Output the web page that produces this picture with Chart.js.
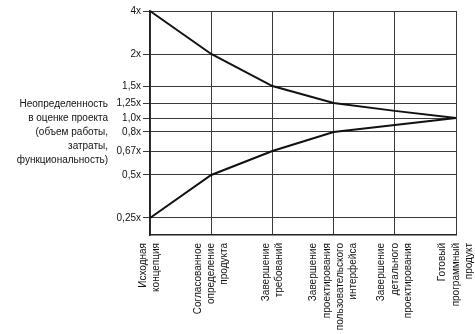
<!DOCTYPE html>
<html>
<head>
<meta charset="utf-8">
<script src="https://cdn.jsdelivr.net/npm/chart.js@4/dist/chart.umd.min.js"></script>
<style>
  body { margin: 0; background: #fff; }
</style>
</head>
<body>
<canvas id="myChart" width="475" height="334"></canvas>
<script>
'use strict';

// stages of the project (x axis)
const stages = [
  ['Исходная', 'концепция'],
  ['Согласованное', 'определение', 'продукта'],
  ['Завершение', 'требований'],
  ['Завершение', 'проектирования', 'пользовательского', 'интерфейса'],
  ['Завершение', 'детального', 'проектирования'],
  ['Готовый', 'программный', 'продукт']
];

// upper and lower edge of the cone
const upperBound = [4, 2, 1.5, 1.25, 1.12, 1];
const lowerBound = [0.25, 0.5, 0.67, 0.8, 0.9, 1];

// y ticks
const tickValues = [0.25, 0.5, 0.67, 0.8, 1, 1.25, 1.5, 2, 4];
const tickLabels = ['0,25x', '0,5x', '0,67x', '0,8x', '1,0x', '1,25x', '1,5x', '2x', '4x'];

const yTitle = ['Неопределенность', 'в оценке проекта', '(объем работы,', 'затраты,', 'функциональность)'];

const FONT = 'Liberation Sans, Arial, Helvetica, sans-serif';

// the y axis of the drawing is not a true log scale, so map values
// piecewise between fixed stops (value, fraction of the height)
class StopScale extends Chart.LinearScale {
  buildTicks() {
    return tickValues.map(v => ({ value: v }));
  }
  getPixelForValue(value) {
    let stops = this.options.stops;
    if (value === null || isNaN(value)) return NaN;
    let i = 1;
    while (i < stops.length - 1 && value > stops[i][0]) i++;
    let a = stops[i - 1], b = stops[i];
    let dec = a[1] + (value - a[0]) / (b[0] - a[0]) * (b[1] - a[1]);
    return this.getPixelForDecimal(dec);
  }
  getValueForPixel(pixel) {
    let stops = this.options.stops;
    let dec = this.getDecimalForPixel(pixel);
    let i = 1;
    while (i < stops.length - 1 && dec > stops[i][1]) i++;
    let a = stops[i - 1], b = stops[i];
    return a[0] + (dec - a[1]) / (b[1] - a[1]) * (b[0] - a[0]);
  }
}
StopScale.id = 'stops';
Chart.register(StopScale);

// horizontal y title + vertical multi-line x labels centred on each tick
const labelsPlugin = {
  id: 'labels',
  afterDraw(chart) {
    let ctx = chart.ctx;
    ctx.save();
    ctx.font = '10px ' + FONT;
    ctx.fillStyle = '#111';
    ctx.textAlign = 'right';
    ctx.textBaseline = 'middle';
    let lh = 14;
    let cy = 132 - (yTitle.length - 1) * lh / 2;
    for (let i = 0; i < yTitle.length; i++) {
      ctx.fillText(yTitle[i], 108, cy + i * lh);
    }

    let xScale = chart.scales.x;
    let top = chart.chartArea.bottom + 8;
    let xlh = 13.3;
    for (let i = 0; i < stages.length; i++) {
      let px = xScale.getPixelForTick(i);
      let lines = stages[i];
      for (let j = 0; j < lines.length; j++) {
        let off = (j - (lines.length - 1) / 2) * xlh;
        ctx.save();
        ctx.translate(px + off, top);
        ctx.rotate(-Math.PI / 2);
        ctx.fillText(lines[j], 0, 0);
        ctx.restore();
      }
    }
    ctx.restore();
  }
};

const gridColor = '#3a3a3a';

const data = {
  labels: stages,
  datasets: [
    {
      label: 'upper',
      data: upperBound,
      borderColor: '#111',
      borderWidth: 2,
      pointRadius: 0,
      tension: 0,
      clip: false
    },
    {
      label: 'lower',
      data: lowerBound,
      borderColor: '#111',
      borderWidth: 2,
      pointRadius: 0,
      tension: 0,
      clip: false
    }
  ]
};

const config = {
  type: 'line',
  data: data,
  options: {
    responsive: false,
    animation: false,
    layout: { padding: { top: 11, right: 19, left: 0, bottom: 0 } },
    plugins: {
      legend: { display: false },
      tooltip: { enabled: false }
    },
    scales: {
      x: {
        type: 'category',
        offset: false,
        grid: { color: gridColor, lineWidth: 1, drawTicks: false },
        border: { color: '#222', width: 1.5 },
        ticks: { display: false },
        afterFit(scale) { scale.height = 99; }
      },
      y: {
        type: 'stops',
        min: 0.2,
        max: 4,
        stops: [[0.2, 0], [0.25, 0.076], [0.5, 0.268], [0.67, 0.375], [0.8, 0.46],
                [1, 0.522], [1.25, 0.589], [1.5, 0.665], [2, 0.808], [4, 1]],
        grid: { color: gridColor, lineWidth: 1, tickLength: 7 },
        border: { color: '#222', width: 1.5 },
        ticks: {
          color: '#111',
          font: { family: FONT, size: 10 },
          padding: 2,
          autoSkip: false,
          callback: function (value) {
            let i = tickValues.indexOf(value);
            return i >= 0 ? tickLabels[i] : '';
          }
        },
        afterFit(scale) { scale.width = 150; }
      }
    }
  },
  plugins: [labelsPlugin]
};

const myChart = new Chart(document.getElementById('myChart'), config);
</script>
</body>
</html>
